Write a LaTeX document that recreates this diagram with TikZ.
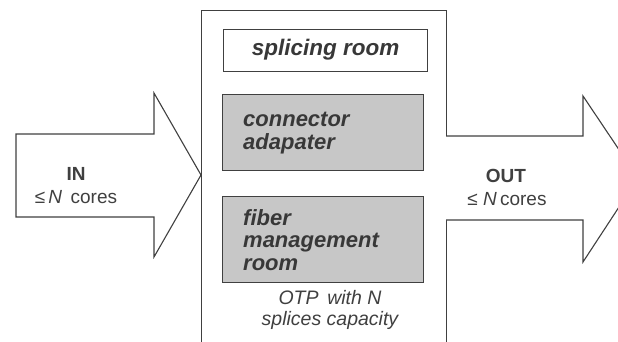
\documentclass[tikz,border=0pt]{standalone}
\usepackage{fontspec}
\setmainfont{Liberation Sans}
\begin{document}
\begin{tikzpicture}[x=1pt,y=-1pt,
  ln/.style={draw=black!75,line width=1.1pt},
  room/.style={ln,fill=black!22,anchor=north west,minimum width=201pt,minimum height=76pt,inner sep=0pt},
  roomtxt/.style={anchor=north west,align=left,text=black!78,inner sep=0pt},
  lbl/.style={text=black!75,inner sep=0pt,align=center}]
\useasboundingbox (0,0) rectangle (618,341);
\clip (0,0) rectangle (618,341);
% main OTP box (open at bottom)
\node[ln,fill=white,anchor=north west,minimum width=245pt,minimum height=345pt,inner sep=0pt] (otp) at (201,10) {};
% left arrow
\draw[ln,fill=white] (16,134) -- (154,134) -- (154,93) -- (201,175) -- (154,257) -- (154,217) -- (16,217) -- cycle;
% right arrow
\draw[ln,fill=white] (446,136) -- (583,136) -- (583,96) -- (638,178) -- (583,262) -- (583,220) -- (446,220);
% inner rooms
\node[ln,fill=white,anchor=north west,minimum width=204pt,minimum height=42pt,inner sep=0pt] (splice) at (223,29) {};
\node[lbl,text=black!78,font=\fontsize{22.5}{23}\selectfont\bfseries\itshape] (splicetxt) at ([yshift=1pt]splice.center) {splicing room};
\node[room] (conn) at (222,94) {};
\node[room,minimum height=86pt] (fiber) at (222,196) {};
\node[roomtxt,font=\fontsize{22}{23}\selectfont\bfseries\itshape] (conntxt) at (243,111.5) {connector\\adapater};
\node[roomtxt,font=\fontsize{22}{22.5}\selectfont\bfseries\itshape] (fibertxt) at (243,209) {fiber\\management\\room};
\node[lbl,font=\fontsize{19.5}{21}\selectfont\itshape] (otptxt) at (330,309.5) {OTP\, with \textit{N}\\splices capacity};
% arrow labels
\node[lbl,font=\fontsize{19}{23}\selectfont] (intxt) at (76,185.5) {\textbf{IN}\\≤\,\textit{N}\, cores};
\node[lbl,font=\fontsize{19}{23}\selectfont] (outtxt) at (506,187.5) {\textbf{OUT}\\\hspace*{2pt}≤\;\textit{N}\,cores};
\end{tikzpicture}
\end{document}
